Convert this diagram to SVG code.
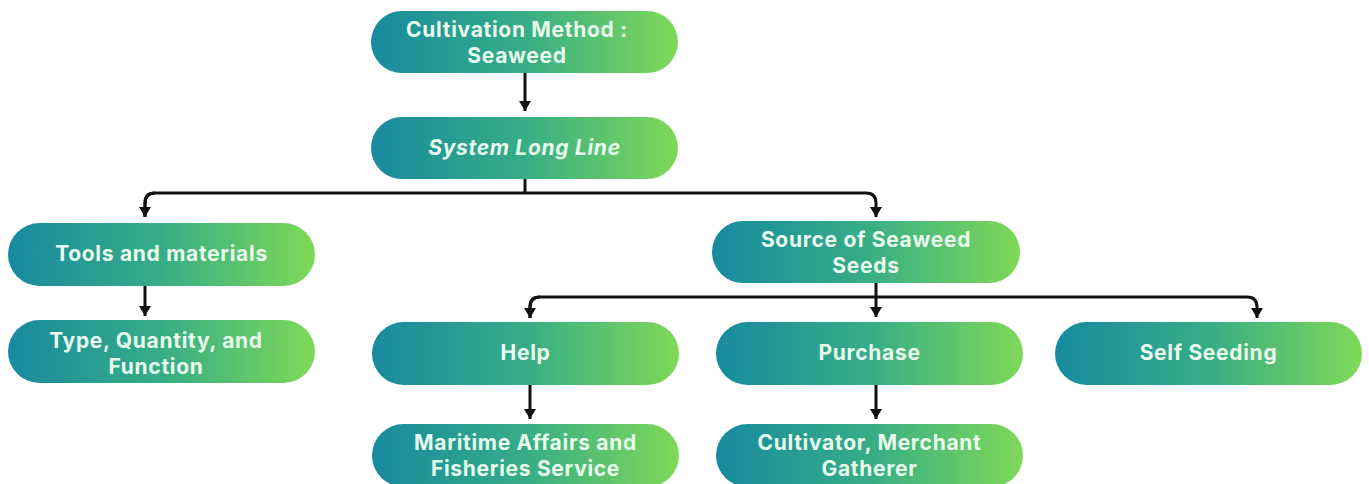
<svg xmlns="http://www.w3.org/2000/svg" width="1369" height="484" viewBox="0 0 1369 484">
  <defs>
    <linearGradient id="pillFill" x1="0" y1="0" x2="1" y2="0">
      <stop offset="0" stop-color="#178a9f"/>
      <stop offset="0.5" stop-color="#37ad86"/>
      <stop offset="1" stop-color="#7fd957"/>
    </linearGradient>
    <marker id="arrow" markerUnits="userSpaceOnUse" markerWidth="14" markerHeight="12" refX="10" refY="6" orient="auto">
      <path d="M0,0 L10,6 L0,12 Z" fill="#111"/>
    </marker>
  </defs>
  <style>
    .pill { fill: url(#pillFill); }
    .label { font-family: "Inter", "Liberation Sans", sans-serif; font-weight: 700; font-size: 21px; letter-spacing: 0.7px; fill: #e8fcee; text-anchor: middle; }
    .italic { font-style: italic; }
    .conn { fill: none; stroke: #111; stroke-width: 3; }
  </style>
  <rect width="1369" height="484" fill="#ffffff"/>

  <g id="connectors">
    <path class="conn" d="M525,73 V111" marker-end="url(#arrow)"/>
    <path class="conn" d="M525,179 V193"/>
    <path class="conn" d="M145,217 V203 Q145,193 155,193 H866 Q876,193 876,203 V217" marker-end="url(#arrow)"/>
    <path class="conn" d="M155,193 Q145,193 145,203 V217" marker-end="url(#arrow)"/>
    <path class="conn" d="M145,286 V316" marker-end="url(#arrow)"/>
    <path class="conn" d="M876,283 V317" marker-end="url(#arrow)"/>
    <path class="conn" d="M530,318 V307 Q530,297 540,297 H1247 Q1257,297 1257,307 V318" marker-end="url(#arrow)"/>
    <path class="conn" d="M540,297 Q530,297 530,307 V318" marker-end="url(#arrow)"/>
    <path class="conn" d="M530,385 V419" marker-end="url(#arrow)"/>
    <path class="conn" d="M876,385 V419" marker-end="url(#arrow)"/>
  </g>

  <g id="node-cultivation">
    <rect class="pill" x="371" y="11" width="307" height="62" rx="31"/>
    <text class="label"><tspan x="517" y="37">Cultivation Method :</tspan><tspan x="517" y="63">Seaweed</tspan></text>
  </g>
  <g id="node-system">
    <rect class="pill" x="371" y="117" width="307" height="62" rx="31"/>
    <text class="label italic" x="524.5" y="155">System Long Line</text>
  </g>
  <g id="node-tools">
    <rect class="pill" x="8" y="223" width="307" height="63" rx="31.5"/>
    <text class="label" x="161.5" y="261">Tools and materials</text>
  </g>
  <g id="node-type">
    <rect class="pill" x="8" y="320" width="307" height="63" rx="31.5"/>
    <text class="label"><tspan x="156" y="348">Type, Quantity, and</tspan><tspan x="156" y="374">Function</tspan></text>
  </g>
  <g id="node-source">
    <rect class="pill" x="712" y="221" width="308" height="62" rx="31"/>
    <text class="label"><tspan x="866" y="247">Source of Seaweed</tspan><tspan x="866" y="273">Seeds</tspan></text>
  </g>
  <g id="node-help">
    <rect class="pill" x="372" y="322" width="307" height="63" rx="31.5"/>
    <text class="label" x="525.5" y="360">Help</text>
  </g>
  <g id="node-purchase">
    <rect class="pill" x="716" y="322" width="307" height="63" rx="31.5"/>
    <text class="label" x="869.5" y="360">Purchase</text>
  </g>
  <g id="node-self-seeding">
    <rect class="pill" x="1055" y="322" width="307" height="63" rx="31.5"/>
    <text class="label" x="1208.5" y="360">Self Seeding</text>
  </g>
  <g id="node-maritime">
    <rect class="pill" x="372" y="424" width="307" height="63" rx="31.5"/>
    <text class="label"><tspan x="525.5" y="450">Maritime Affairs and</tspan><tspan x="525.5" y="476">Fisheries Service</tspan></text>
  </g>
  <g id="node-cultivator">
    <rect class="pill" x="716" y="424" width="307" height="63" rx="31.5"/>
    <text class="label"><tspan x="869.5" y="450">Cultivator, Merchant</tspan><tspan x="869.5" y="476">Gatherer</tspan></text>
  </g>
</svg>
